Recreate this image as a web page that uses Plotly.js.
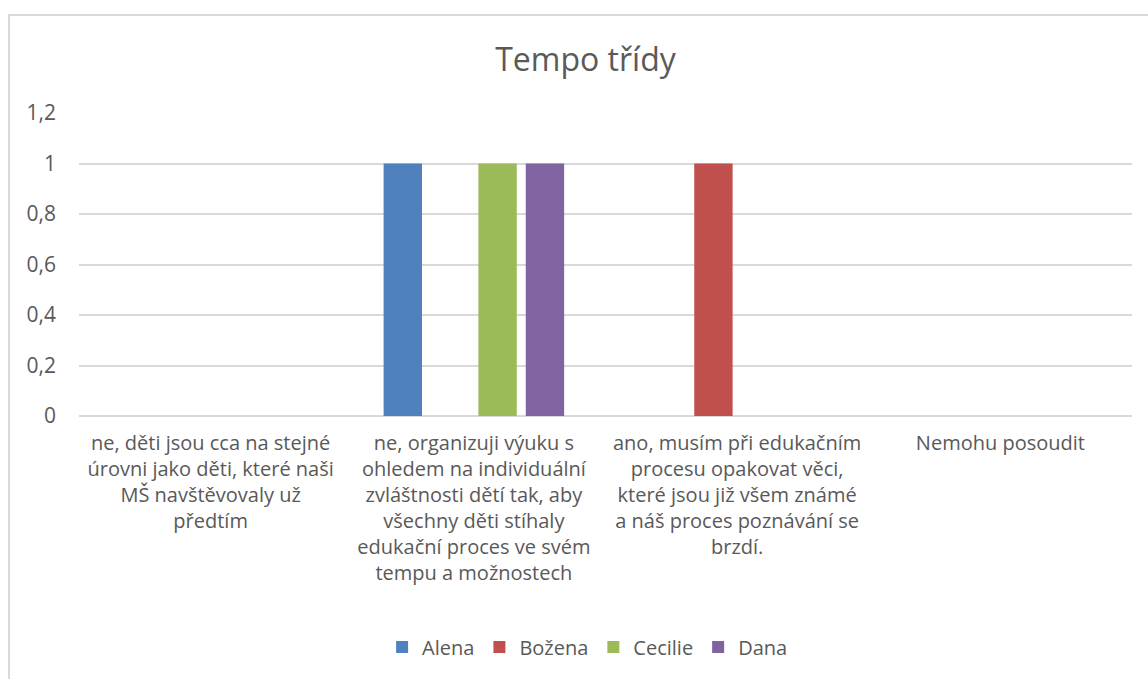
<!DOCTYPE html>
<html>
<head>
<meta charset="utf-8">
<script src="https://cdn.plot.ly/plotly-3.0.1.min.js"></script>
<style>
  html, body { margin: 0; padding: 0; background: #ffffff; }
  #frame { position: absolute; left: 8px; top: 14px; width: 1200px; height: 720px; border: 2px solid #d9d9d9; box-sizing: border-box; }
  #chart { position: absolute; left: 0; top: 0; width: 1148px; height: 679px; }
</style>
</head>
<body>
<div id="frame"></div>
<div id="chart"></div>
<script>
// ---- data ----
const categoryLines = [
  ["ne, děti jsou cca na stejné", "úrovni jako děti, které naši", "MŠ navštěvovaly už", "předtím"],
  ["ne, organizuji výuku s", "ohledem na individuální", "zvláštnosti dětí tak, aby", "všechny děti stíhaly", "edukační proces ve svém", "tempu a možnostech"],
  ["ano, musím při edukačním", "procesu opakovat věci,", "které jsou již všem známé", "a náš proces poznávání se", "brzdí."],
  ["Nemohu posoudit"]
];
const categories = categoryLines.map(l => l.join("<br>"));
const seriesNames = ["Alena", "Božena", "Cecilie", "Dana"];
const alena   = [0, 1, 0, 0];
const bozena  = [0, 0, 1, 0];
const cecilie = [0, 1, 0, 0];
const dana    = [0, 1, 0, 0];
const yTicks  = [0, 0.2, 0.4, 0.6, 0.8, 1, 1.2];
const titleText = "Tempo třídy";

// ---- styles ----
const colors = ["#4f81bd", "#c0504d", "#9bbb59", "#8064a2"];
const values = [alena, bozena, cecilie, dana];
const FONT = "'Open Sans', sans-serif";
const TXT = "#595959";

const traces = seriesNames.map((n, i) => ({
  type: "bar",
  name: n,
  x: categories,
  y: values[i],
  marker: { color: colors[i] },
  hoverinfo: "x+y+name"
}));

const layout = {
  width: 1148,
  height: 679,
  margin: { l: 79, r: 16, t: 113, b: 263 },
  paper_bgcolor: "rgba(0,0,0,0)",
  plot_bgcolor: "rgba(0,0,0,0)",
  separators: ", ",
  barmode: "group",
  bargap: 0.28,
  bargroupgap: 0.19,
  title: {
    text: titleText,
    font: { family: FONT, size: 32, color: TXT },
    x: 0.51, xref: "container", xanchor: "center",
    y: 0.912, yref: "container", yanchor: "middle"
  },
  xaxis: {
    type: "category",
    tickfont: { family: FONT, size: 20, color: TXT },
    showgrid: false,
    showline: false,
    ticks: "",
    tickangle: 0,
    automargin: false,
    ticklabelstandoff: 13
  },
  yaxis: {
    range: [0, 1.2],
    tickvals: yTicks,
    tickfont: { family: FONT, size: 21, color: TXT },
    showgrid: true,
    gridcolor: "#d9d9d9",
    gridwidth: 1.5,
    zeroline: true,
    zerolinecolor: "#d9d9d9",
    zerolinewidth: 1.5,
    showline: false,
    ticks: "",
    automargin: false,
    ticklabelstandoff: 22
  },
  showlegend: true,
  legend: {
    orientation: "h",
    x: 0.483, xanchor: "center",
    y: -0.762, yanchor: "middle",
    font: { family: FONT, size: 20, color: TXT },
    itemwidth: 20,
    traceorder: "normal"
  }
};

Plotly.newPlot("chart", traces, layout, { displayModeBar: false, staticPlot: false });
</script>
</body>
</html>
